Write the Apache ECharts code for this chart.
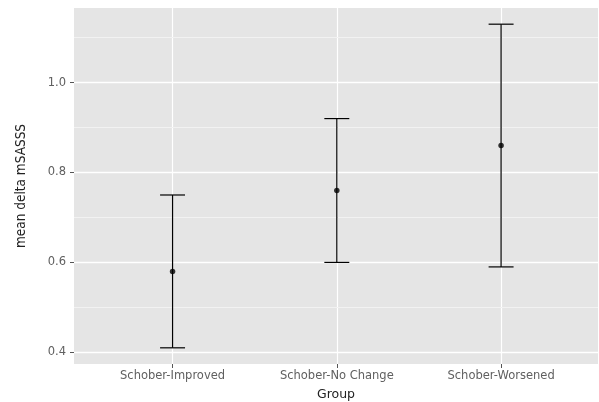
<!DOCTYPE html>
<html>
<head>
<meta charset="utf-8">
<style>html,body{margin:0;padding:0;background:#fff;}#chart{width:599px;height:402px;}</style>
<script src="https://cdn.jsdelivr.net/npm/echarts@6/dist/echarts.min.js"></script>
</head>
<body>
<div id="chart"></div>
<script>
const categories = ['Schober-Improved', 'Schober-No Change', 'Schober-Worsened'];
const means = [0.58, 0.76, 0.86];
const lower = [0.41, 0.60, 0.59];
const upper = [0.75, 0.92, 1.13];
const yMajorTicks = [0.4, 0.6, 0.8, 1.0];
const yMinorTicks = [0.5, 0.7, 0.9, 1.1];
const xPositions = [1, 2, 3];

const lo = Math.min(...lower), hi = Math.max(...upper);
const pad = (hi - lo) * 0.05;
const yMin = lo - pad, yMax = hi + pad;

const chart = echarts.init(document.getElementById('chart'), null, {renderer: 'canvas'});
const labelColor = '#606060';
chart.setOption({
  backgroundColor: '#ffffff',
  animation: false,
  grid: {left: 74, right: 1, top: 8, bottom: 38, containLabel: false, outerBoundsMode: 'none',
         show: true, backgroundColor: '#E5E5E5', borderWidth: 0, borderColor: 'transparent'},
  xAxis: {
    type: 'value', min: 0.4, max: 3.59,
    name: 'Group', nameLocation: 'middle', nameGap: 24,
    nameTextStyle: {fontFamily: 'DejaVu Sans', fontSize: 12.5, color: '#222'},
    axisLine: {show: false},
    axisTick: {show: true, length: 4, customValues: xPositions, lineStyle: {color: '#555', width: 1}},
    axisLabel: {customValues: xPositions, margin: 6, fontFamily: 'DejaVu Sans', fontSize: 11.5, color: labelColor,
                formatter: v => categories[Math.round(v) - 1] || ''},
    splitLine: {show: true, lineStyle: {color: '#ffffff', width: 1.2}}
  },
  yAxis: [{
    type: 'value', min: yMin, max: yMax,
    name: 'mean delta mSASSS', nameLocation: 'middle', nameGap: 46,
    nameTextStyle: {fontFamily: "'Liberation Sans Narrow', 'DejaVu Sans Condensed', sans-serif", fontSize: 13.5, color: '#222'},
    axisLine: {show: false},
    axisTick: {show: true, length: 4, customValues: yMajorTicks, lineStyle: {color: '#555', width: 1}},
    axisLabel: {customValues: yMajorTicks, margin: 8, fontFamily: 'DejaVu Sans', fontSize: 11.5, color: labelColor,
                formatter: v => v.toFixed(1)},
    splitLine: {show: true, lineStyle: {color: '#ffffff', width: 1.3}},
    z: 2
  }, {
    type: 'value', min: yMin, max: yMax, position: 'left',
    axisLine: {show: false},
    axisTick: {show: false, customValues: yMinorTicks},
    axisLabel: {show: false},
    splitLine: {show: true, lineStyle: {color: '#F2F2F2', width: 1}},
    z: 1
  }],
  series: [{
    type: 'custom',
    renderItem: function (params, api) {
      const x = api.value(0), l = api.value(1), h = api.value(2);
      const pH = api.coord([x, h]), pL = api.coord([x, l]);
      const half = api.size([0.076, 0])[0];
      const st = {stroke: '#000', lineWidth: 1.2};
      return {type: 'group', children: [
        {type: 'line', shape: {x1: pH[0], y1: pH[1], x2: pL[0], y2: pL[1]}, style: st},
        {type: 'line', shape: {x1: pH[0] - half, y1: pH[1], x2: pH[0] + half, y2: pH[1]}, style: st},
        {type: 'line', shape: {x1: pL[0] - half, y1: pL[1], x2: pL[0] + half, y2: pL[1]}, style: st}
      ]};
    },
    encode: {x: 0, y: [1, 2]},
    data: xPositions.map((x, i) => [x, lower[i], upper[i]]),
    z: 5
  }, {
    type: 'scatter',
    symbol: 'circle', symbolSize: 5.5,
    itemStyle: {color: '#000'},
    data: xPositions.map((x, i) => [x, means[i]]),
    z: 6
  }]
});
</script>
</body>
</html>
